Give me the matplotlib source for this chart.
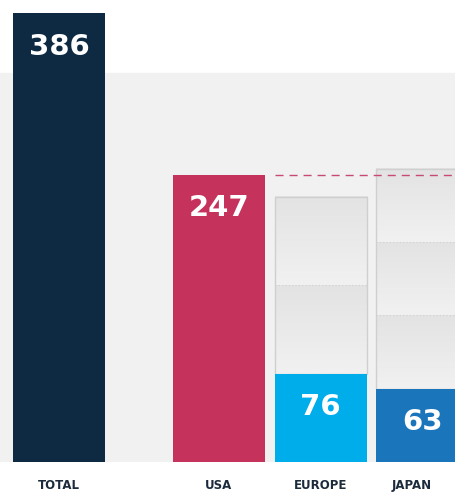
import matplotlib.pyplot as plt
import numpy as np
from matplotlib.colors import LinearSegmentedColormap
from matplotlib.patches import Rectangle

categories = ['TOTAL', 'USA', 'EUROPE', 'JAPAN']
values = [386, 247, 76, 63]
colors = ['#0e2a42', '#c5325b', '#00adeb', '#1b75bb']
positions = [0, 1.57, 2.57, 3.57]
label_x = [0, 1.57, 2.57, 3.46]

BAR_WIDTH = 0.905
BACKGROUND = '#f1f1f1'
TEXT_COLOR = '#1c2b3c'

fig = plt.figure(figsize=(4.56, 4.93), dpi=100)
ax = fig.add_axes([0, 31 / 493, 1, 462 / 493])

ax.axhspan(0, 334.5, color=BACKGROUND, zorder=0)

bars = ax.bar(positions, values, width=BAR_WIDTH, color=colors, zorder=3)

for pos, val in zip(positions, values):
    ax.text(pos, val - 29, str(val), ha='center', va='center', color='white',
            fontsize=21, fontweight='bold', family='DejaVu Sans', zorder=5)

# ghost blocks showing how many stacked blocks match the USA value
ghost_cmap = LinearSegmentedColormap.from_list('ghost', ['#f1f1f1', '#e3e3e3'])
usa = values[1]
gradient = np.linspace(0, 1, 64).reshape(-1, 1)
for pos, val in zip(positions[2:], values[2:]):
    n = int(round(usa / val))
    left = pos - BAR_WIDTH / 2
    for k in range(1, n):
        ax.imshow(gradient, cmap=ghost_cmap, origin='lower', aspect='auto',
                  extent=[left, left + BAR_WIDTH, k * val, (k + 1) * val], zorder=1)
        ax.plot([left, left + BAR_WIDTH], [k * val, k * val], color='#d0d0d0',
                lw=0.8, ls=(0, (1, 2)), zorder=2)
    ax.add_patch(Rectangle((left, val), BAR_WIDTH, (n - 1) * val, fill=False,
                           edgecolor='#cfcfcf', lw=1, zorder=2))

ax.plot([positions[2] - BAR_WIDTH / 2, 4.5], [usa, usa], color='#c84a72',
        lw=1, ls=(0, (5.8, 4.3)), zorder=2)

for x, cat in zip(label_x, categories):
    ax.text(x, -20.5, cat, ha='center', va='center', color=TEXT_COLOR,
            fontsize=8.5, fontweight='bold', family='DejaVu Sans', clip_on=False)

ax.set_xlim(-0.58, 3.90)
ax.set_ylim(0, 397)
ax.axis('off')

plt.savefig('out.png', dpi=100)
plt.close()
